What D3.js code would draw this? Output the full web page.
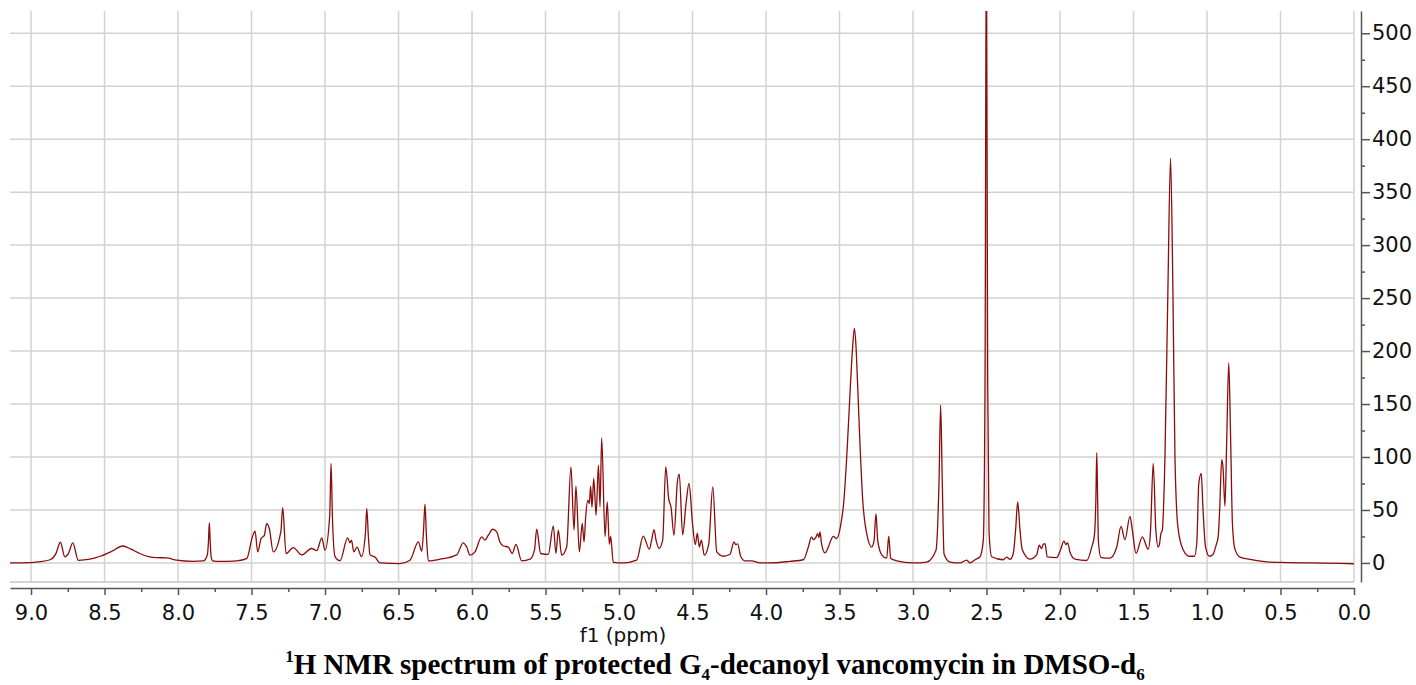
<!DOCTYPE html>
<html>
<head>
<meta charset="utf-8">
<script src="https://cdn.jsdelivr.net/npm/d3@7"></script>
<style>
  body { margin: 0; background: #fff; }
  svg { display: block; }
</style>
</head>
<body>
<svg id="chart"></svg>
<script>
/** tick values of both axes */
var xMajorTicks = [9.0, 8.5, 8.0, 7.5, 7.0, 6.5, 6.0, 5.5, 5.0, 4.5, 4.0, 3.5, 3.0, 2.5, 2.0, 1.5, 1.0, 0.5, 0.0];
var xMinorTicks = [8.75, 8.25, 7.75, 7.25, 6.75, 6.25, 5.75, 5.25, 4.75, 4.25, 3.75, 3.25, 2.75, 2.25, 1.75, 1.25, 0.75, 0.25];
var yMajorTicks = [0, 50, 100, 150, 200, 250, 300, 350, 400, 450, 500];
var yMinorTicks = [25, 75, 125, 175, 225, 275, 325, 375, 425, 475];

/** spectrum: [ppm, intensity] */
var amideAromatic = [
  [9.143, 0], [9.0, 0.3], [8.95, 1], [8.87, 3], [8.83, 9], [8.80, 19.5], [8.77, 5.7], [8.745, 9],
  [8.716, 19], [8.678, 2.5], [8.6, 3.5], [8.53, 6.3], [8.45, 11], [8.376, 16], [8.32, 13], [8.26, 8.9],
  [8.2, 6], [8.145, 5], [8.077, 4.8], [8.01, 2.6], [7.9, 1.5], [7.827, 1.9], [7.80, 8], [7.793, 20],
  [7.787, 38], [7.781, 20], [7.775, 6], [7.764, 2], [7.714, 1.5], [7.6, 2], [7.533, 4], [7.494, 24.6],
  [7.476, 30], [7.458, 10.4], [7.435, 23], [7.413, 26], [7.397, 37], [7.379, 32.5], [7.352, 10.4],
  [7.30, 30], [7.288, 52.3], [7.265, 8.9], [7.216, 14.5], [7.159, 7.6], [7.091, 13.6], [7.056, 11.6],
  [7.022, 23.6], [7.0, 12], [6.968, 45], [6.959, 93.9], [6.95, 45], [6.932, 6], [6.898, 2.1],
  [6.846, 23.6], [6.83, 19], [6.82, 21.5], [6.804, 10.4], [6.782, 15], [6.752, 6], [6.725, 28],
  [6.716, 51.4], [6.705, 25], [6.694, 7.6], [6.66, 5.5], [6.626, 0], [6.49, -0.6], [6.422, 2.6],
  [6.365, 19.8], [6.342, 11], [6.33, 30], [6.32, 55.4], [6.31, 25], [6.297, 2], [6.218, 3.5],
  [6.104, 7.6], [6.06, 19], [6.036, 15]
];
var sugarAlpha = [
  [6.014, 7.3], [5.98, 10.4], [5.934, 24.6], [5.912, 21.5], [5.89, 26], [5.859, 31.8], [5.832, 29.3],
  [5.81, 19.8], [5.787, 16], [5.753, 15], [5.726, 8.9], [5.701, 17.6], [5.662, 2], [5.605, 3.5],
  [5.575, 12], [5.56, 31.8], [5.533, 8.9], [5.481, 8], [5.447, 35], [5.429, 8.9], [5.413, 31],
  [5.39, 7.3], [5.356, 15], [5.327, 90.7], [5.306, 31], [5.293, 72.4], [5.27, 10.4], [5.25, 37.2],
  [5.238, 19.8], [5.227, 42.9], [5.213, 59.2], [5.202, 56], [5.193, 72.4], [5.184, 52.5],
  [5.172, 79.7], [5.156, 45], [5.14, 92.3], [5.129, 53], [5.118, 118], [5.095, 25], [5.08, 57.6],
  [5.066, 17.6], [5.057, 25], [5.039, 0.6], [4.971, 0], [4.88, 2.6], [4.835, 25.3], [4.794, 13],
  [4.778, 21.5], [4.762, 31.5], [4.748, 21.5], [4.728, 13.7], [4.703, 21.5], [4.682, 90.7],
  [4.662, 60.5], [4.646, 52.5], [4.626, 26], [4.603, 76.5], [4.59, 83.8], [4.567, 26.6],
  [4.544, 56], [4.524, 75], [4.499, 35.6], [4.481, 17.3], [4.467, 28], [4.454, 15], [4.44, 21.5],
  [4.42, 7.3], [4.39, 17.6], [4.362, 71.8], [4.335, 10.4], [4.29, 6.3], [4.245, 8.2], [4.218, 19.8],
  [4.206, 17.3], [4.193, 18], [4.172, 6], [4.143, 2], [4.098, 2], [4.041, 0]
];
var waterSolvent = [
  [3.973, 0], [3.837, 1.5], [3.746, 3], [3.712, 15], [3.69, 24.6], [3.678, 22], [3.662, 23.8],
  [3.649, 27.7], [3.64, 24], [3.633, 29.3], [3.622, 18], [3.599, 9.5], [3.576, 15], [3.554, 23],
  [3.543, 25], [3.519, 23], [3.494, 34], [3.47, 59.2], [3.447, 109.6], [3.424, 172.6], [3.41, 205],
  [3.399, 221.4], [3.388, 205], [3.378, 172.6], [3.36, 109.6], [3.342, 59.2], [3.315, 27.7],
  [3.281, 15], [3.265, 21], [3.252, 46.6], [3.24, 21], [3.213, 7.7], [3.179, 4.5], [3.165, 25.2],
  [3.152, 4.5], [3.111, 2], [3.0, 0], [2.907, 0.8], [2.844, 11.7], [2.823, 77], [2.812, 149],
  [2.801, 77], [2.789, 8.5], [2.748, 0.8], [2.68, 0], [2.635, 2.7], [2.612, 0], [2.578, 3],
  [2.544, 5.8], [2.522, 21], [2.51, 172], [2.501, 600], [2.492, 172], [2.483, 30], [2.465, 5.8],
  [2.386, 3], [2.363, 5.5], [2.34, 3.4], [2.318, 8.9], [2.302, 31], [2.288, 57.6], [2.272, 31],
  [2.257, 12.6], [2.204, 3.5], [2.159, 7.6], [2.141, 16.7], [2.125, 13.5], [2.114, 17.6],
  [2.102, 18.2], [2.087, 5.7], [2.023, 5.1], [1.996, 12.6], [1.973, 20.5], [1.959, 17.3],
  [1.948, 19], [1.932, 10], [1.898, 3.5], [1.818, 2.3]
];
var alkylChain = [
  [1.784, 15], [1.766, 26], [1.756, 60], [1.75, 104], [1.744, 60], [1.739, 21], [1.721, 5.1],
  [1.66, 4.5], [1.614, 15], [1.585, 34.5], [1.558, 22], [1.524, 44], [1.508, 31], [1.483, 9],
  [1.44, 24.6], [1.4, 13], [1.384, 31], [1.366, 93.9], [1.348, 31], [1.332, 15], [1.323, 18],
  [1.314, 27.5], [1.304, 31], [1.286, 100], [1.266, 257.6], [1.248, 382], [1.232, 257.6],
  [1.218, 100], [1.198, 34], [1.164, 13], [1.119, 6.3], [1.085, 6.3], [1.069, 20], [1.056, 75],
  [1.039, 84.4], [1.028, 53], [1.01, 15], [0.983, 6.3], [0.96, 8], [0.937, 17.3], [0.924, 24.6],
  [0.913, 53], [0.9, 97.6], [0.891, 90], [0.878, 53.6], [0.866, 115], [0.852, 189], [0.839, 115],
  [0.827, 37], [0.81, 13], [0.776, 5.5], [0.708, 3.3], [0.594, 1], [0.503, 0.5], [0.3, 0],
  [0.1, -0.5], [0.0, -0.8]
];

var svgWidth = 1416, svgHeight = 685;
var plot = { left: 10, right: 1354, top: 11, bottom: 582 };

var svg = d3.select('#chart')
    .attr('width', svgWidth)
    .attr('height', svgHeight);

svg.append('rect').attr('width', svgWidth).attr('height', svgHeight).attr('fill', '#fff');

var x = d3.scaleLinear().domain([9.143, 0]).range([plot.left, plot.right]);
var y = d3.scaleLinear().domain([-18, 521]).range([plot.bottom, plot.top]);

// grid
var grid = svg.append('g').attr('stroke', '#d2d2d2').attr('stroke-width', 1.5);
grid.selectAll('.vg').data(xMajorTicks).enter().append('line')
    .attr('x1', function(d) { return x(d); }).attr('x2', function(d) { return x(d); })
    .attr('y1', plot.top).attr('y2', plot.bottom);
grid.selectAll('.hg').data(yMajorTicks).enter().append('line')
    .attr('x1', plot.left).attr('x2', plot.right)
    .attr('y1', function(d) { return y(d); }).attr('y2', function(d) { return y(d); });
grid.append('line').attr('x1', plot.left).attr('x2', plot.right)
    .attr('y1', plot.bottom).attr('y2', plot.bottom).attr('stroke', '#c4c4c4');

// spectrum
svg.append('clipPath').attr('id', 'clip').append('rect')
    .attr('x', plot.left).attr('y', plot.top)
    .attr('width', plot.right - plot.left).attr('height', plot.bottom - plot.top);

var spectrum = amideAromatic.concat(sugarAlpha, waterSolvent, alkylChain);
var line = d3.line()
    .curve(d3.curveMonotoneX)
    .x(function(d) { return x(d[0]); })
    .y(function(d) { return y(d[1]); });

svg.append('path')
    .datum(spectrum)
    .attr('clip-path', 'url(#clip)')
    .attr('fill', 'none')
    .attr('stroke', '#8b0c0c')
    .attr('stroke-width', 1.3)
    .attr('stroke-linejoin', 'round')
    .attr('d', line);

// x axis
var axisFont = '"DejaVu Sans", sans-serif';
var gx = svg.append('g').attr('transform', 'translate(0,588)');
gx.call(d3.axisBottom(x).tickValues(xMajorTicks).tickSize(7).tickSizeOuter(0).tickPadding(10)
    .tickFormat(d3.format('.1f')));
gx.append('g').call(d3.axisBottom(x).tickValues(xMinorTicks).tickSize(4).tickFormat(''))
  .select('.domain').remove();
gx.selectAll('path, line').attr('stroke', '#555').attr('stroke-width', 1.5);
gx.selectAll('text').attr('font-family', axisFont).attr('font-size', 21).attr('fill', '#111');

// y axis on the right
var gy = svg.append('g').attr('transform', 'translate(1361,0)');
gy.call(d3.axisRight(y).tickValues(yMajorTicks).tickSize(9).tickSizeOuter(0).tickPadding(2));
gy.append('g').call(d3.axisRight(y).tickValues(yMinorTicks).tickSize(4).tickFormat(''))
  .select('.domain').remove();
gy.selectAll('path, line').attr('stroke', '#555').attr('stroke-width', 1.5);
gy.selectAll('text').attr('font-family', axisFont).attr('font-size', 21).attr('fill', '#111');

// axis label
svg.append('text')
    .attr('x', 623).attr('y', 642)
    .attr('text-anchor', 'middle')
    .attr('font-family', axisFont).attr('font-size', 20).attr('fill', '#111')
    .text('f1 (ppm)');

// caption
var title = svg.append('text')
    .attr('x', 715).attr('y', 674)
    .attr('text-anchor', 'middle')
    .attr('font-family', '"Liberation Serif", "Times New Roman", serif')
    .attr('font-weight', 'bold').attr('font-size', 29).attr('fill', '#000');
title.append('tspan').attr('font-size', 17).attr('dy', -12).text('1');
title.append('tspan').attr('dy', 12).text('H NMR spectrum of protected G');
title.append('tspan').attr('font-size', 17).attr('dy', 6).text('4');
title.append('tspan').attr('dy', -6).text('-decanoyl vancomycin in DMSO-d');
title.append('tspan').attr('font-size', 17).attr('dy', 6).text('6');
</script>
</body>
</html>
